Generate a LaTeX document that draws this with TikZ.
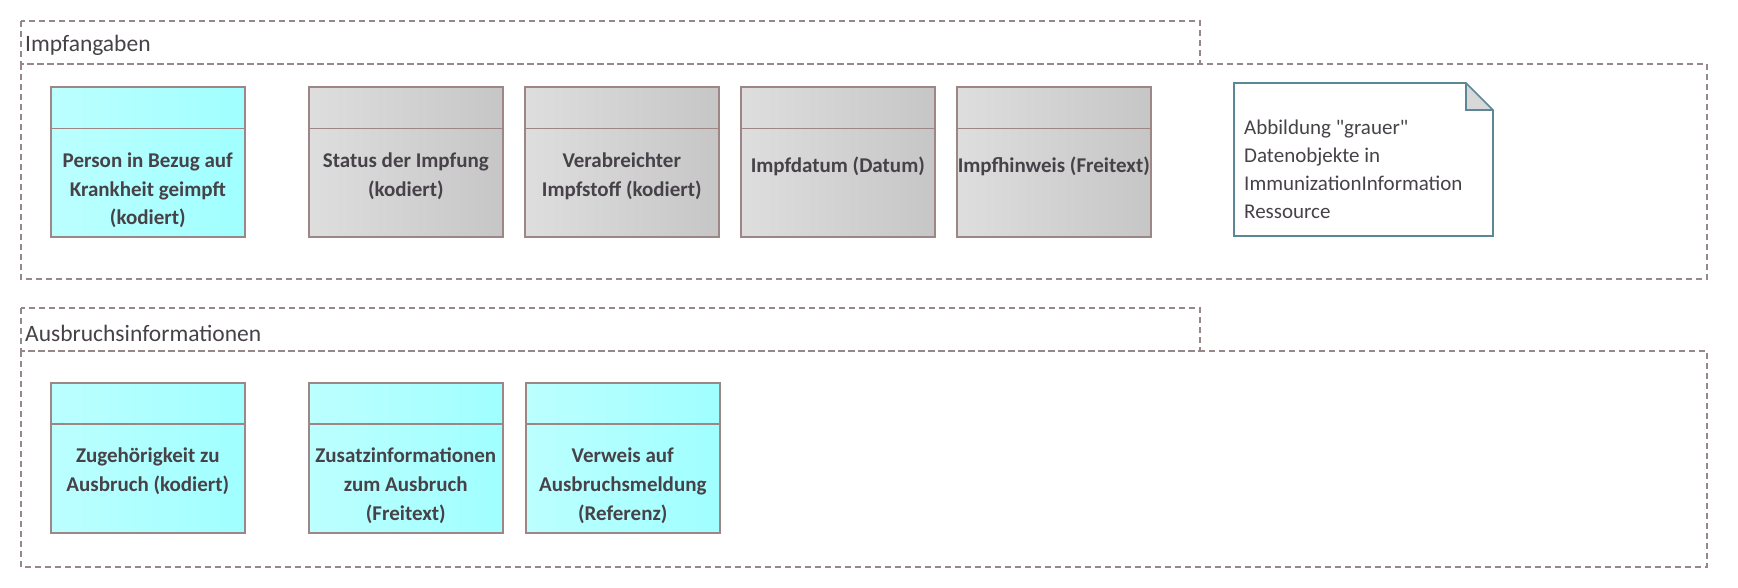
\documentclass[tikz,border=0pt]{standalone}
\usepackage{fontspec}
\setmainfont{Carlito}
\definecolor{kborder}{RGB}{158,134,134}
\definecolor{kdash}{RGB}{150,136,136}
\definecolor{ktextcol}{RGB}{70,66,72}
\definecolor{kgrayL}{RGB}{222,222,222}
\definecolor{kgrayR}{RGB}{198,198,198}
\definecolor{kcyanL}{RGB}{188,255,255}
\definecolor{kcyanR}{RGB}{160,255,255}
\definecolor{knote}{RGB}{92,136,150}
\definecolor{kfold}{RGB}{216,216,216}
\tikzset{
  klasse/.style={draw=kborder, line width=1.6pt, minimum width=194pt,
    minimum height=150pt, inner sep=0pt, anchor=north west},
  grau/.style={klasse, left color=kgrayL, right color=kgrayR},
  tuerkis/.style={klasse, left color=kcyanL, right color=kcyanR},
  trenn/.style={draw=kborder, line width=1.6pt},
  ktext/.style={font=\bfseries\fontsize{21}{28.6}\selectfont, text=ktextcol,
    align=center, inner sep=0pt, anchor=north, execute at begin node=\strut},
  paket/.style={draw=kdash, dash pattern=on 6pt off 4pt, line width=1.3pt},
  ptext/.style={font=\fontsize{23.5}{26}\selectfont, text=ktextcol,
    inner sep=0pt, anchor=west},
  ntext/.style={font=\fontsize{21}{28}\selectfont, text=ktextcol,
    align=left, inner sep=0pt, anchor=west},
}
\begin{document}
\begin{tikzpicture}[x=1pt,y=-1pt]
\useasboundingbox (0,0) rectangle (1738,588);
% packages
\draw[paket] (21,21) rectangle (1200,64);
\draw[paket] (21,64) rectangle (1707,279);
\node[ptext] (p1) at (25,45) {Impfangaben};
\draw[paket] (21,308) rectangle (1200,351);
\draw[paket] (21,351) rectangle (1707,567);
\node[ptext] (p2) at (25,333) {Ausbruchsinformationen};
% boxes, Impfangaben
\node[tuerkis] (b1) at (50,86.5)  {};
\node[grau]    (b2) at (308,86.5) {};
\node[grau]    (b3) at (524,86.5) {};
\node[grau]    (b4) at (740,86.5) {};
\node[grau]    (b5) at (956,86.5) {};
% boxes, Ausbruchsinformationen
\node[tuerkis] (c1) at (50,382)  {};
\node[tuerkis] (c2) at (308,382) {};
\node[tuerkis] (c3) at (525,382) {};
% compartments
\foreach \b in {b1,b2,b3,b4,b5,c1,c2,c3}
  \draw[trenn] ([yshift=-42pt]\b.north west) -- ([yshift=-42pt]\b.north east);
% names
\node[ktext] (t1) at ([yshift=-66pt]b1.north) {Person in Bezug auf\\Krankheit geimpft\\(kodiert)};
\node[ktext] (t2) at ([yshift=-66pt]b2.north) {Status der Impfung\\(kodiert)};
\node[ktext] (t3) at ([yshift=-66pt]b3.north) {Verabreichter\\Impfstoff (kodiert)};
\node[ktext] (t4) at ([yshift=-66pt]b4.north) {Impfdatum (Datum)};
\node[ktext] (t5) at ([yshift=-66pt]b5.north) {Impfhinweis (Freitext)};
\node[ktext] (u1) at ([yshift=-66pt]c1.north) {Zugehörigkeit zu\\Ausbruch (kodiert)};
\node[ktext] (u2) at ([yshift=-66pt]c2.north) {Zusatzinformationen\\zum Ausbruch\\(Freitext)};
\node[ktext] (u3) at ([yshift=-66pt]c3.north) {Verweis auf\\Ausbruchsmeldung\\(Referenz)};
% note
\coordinate (nNW) at (1234,83);
\coordinate (nF1) at (1466,83);
\coordinate (nF2) at (1493,110);
\coordinate (nFC) at (1466,110);
\coordinate (nSE) at (1493,236);
\coordinate (nSW) at (1234,236);
\fill[kfold] (nF1) -- (nFC) -- (nF2) -- cycle;
\draw[knote, line width=1.6pt] (nF1) -- (nFC) -- (nF2);
\draw[knote, line width=1.6pt] (nNW) -- (nF1) -- (nF2) -- (nSE) -- (nSW) -- cycle;
\node[ntext] (n1) at (1244,169) {Abbildung \textquotedbl grauer\textquotedbl\\Datenobjekte in\\ImmunizationInformation\\Ressource};
\end{tikzpicture}
\end{document}
